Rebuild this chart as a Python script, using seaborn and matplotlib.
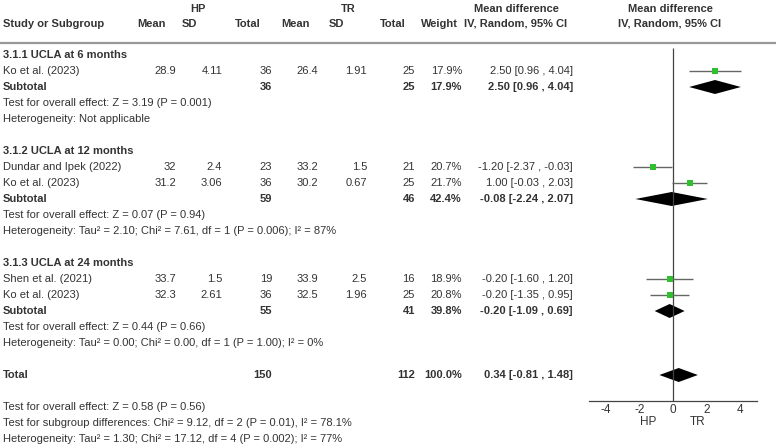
import numpy as np
import pandas as pd
import matplotlib
matplotlib.use('Agg')
import matplotlib.pyplot as plt
import seaborn as sns

# --- data ---
studies = ['Ko et al. (2023)', 'Dundar and Ipek (2022)', 'Ko et al. (2023)',
           'Shen et al. (2021)', 'Ko et al. (2023)']
group = [0, 1, 1, 2, 2]
hp_mean = [28.9, 32, 31.2, 33.7, 32.3]
hp_sd = [4.11, 2.4, 3.06, 1.5, 2.61]
hp_n = [36, 23, 36, 19, 36]
tr_mean = [26.4, 33.2, 30.2, 33.9, 32.5]
tr_sd = [1.91, 1.5, 0.67, 2.5, 1.96]
tr_n = [25, 21, 25, 16, 25]
weight = [17.9, 20.7, 21.7, 18.9, 20.8]
md = [2.50, -1.20, 1.00, -0.20, -0.20]
ci_lo = [0.96, -2.37, -0.03, -1.60, -1.35]
ci_hi = [4.04, -0.03, 2.03, 1.20, 0.95]

sub_titles = ['3.1.1 UCLA at 6 months', '3.1.2 UCLA at 12 months', '3.1.3 UCLA at 24 months']
sub_hp_n = [36, 59, 55]
sub_tr_n = [25, 46, 41]
sub_weight = [17.9, 42.4, 39.8]
sub_md = [2.50, -0.08, -0.20]
sub_lo = [0.96, -2.24, -1.09]
sub_hi = [4.04, 2.07, 0.69]
sub_effect = ['Test for overall effect: Z = 3.19 (P = 0.001)',
              'Test for overall effect: Z = 0.07 (P = 0.94)',
              'Test for overall effect: Z = 0.44 (P = 0.66)']
sub_het = ['Heterogeneity: Not applicable',
           'Heterogeneity: Tau² = 2.10; Chi² = 7.61, df = 1 (P = 0.006); I² = 87%',
           'Heterogeneity: Tau² = 0.00; Chi² = 0.00, df = 1 (P = 1.00); I² = 0%']

total_hp_n = 150
total_tr_n = 112
total_weight = 100.0
total_md, total_lo, total_hi = 0.34, -0.81, 1.48
footer = ['Test for overall effect: Z = 0.58 (P = 0.56)',
          'Test for subgroup differences: Chi² = 9.12, df = 2 (P = 0.01), I² = 78.1%',
          'Heterogeneity: Tau² = 1.30; Chi² = 17.12, df = 4 (P = 0.002); I² = 77%']
xticks = [-4, -2, 0, 2, 4]

# --- layout ---
sns.set_theme(style='white')
plt.rcParams['font.family'] = ['Liberation Sans', 'DejaVu Sans']
FS = 8.0
TXT = '#333333'
GREEN = '#2fbf2f'
W, H = 776, 448
row0, pitch = 55, 16

fig = plt.figure(figsize=(W / 100, H / 100), dpi=100)
tax = fig.add_axes([0, 0, 1, 1])
tax.set_xlim(0, W)
tax.set_ylim(H, 0)
tax.axis('off')

# forest panel: x in mean-difference units, y in pixel rows
fx0, fx1 = 589, 757
fax = fig.add_axes([fx0 / W, 0, (fx1 - fx0) / W, 1])
fax.set_xlim(-5, 5)
fax.set_ylim(H, 0)
fax.patch.set_alpha(0)
for s in ['top', 'left', 'right']:
    fax.spines[s].set_visible(False)
axis_y = 401
fax.spines['bottom'].set_position(('data', axis_y))
fax.spines['bottom'].set_color('#444444')
fax.spines['bottom'].set_linewidth(0.9)
fax.set_yticks([])
fax.set_xticks(xticks)
fax.set_xticklabels([str(t) for t in xticks])
fax.tick_params(axis='x', direction='inout', length=5, width=0.9, color='#444444',
                labelsize=FS + 0.5, labelcolor=TXT, pad=0)
fax.text(-1.5, 422, 'HP', ha='center', va='center', fontsize=FS + 0.5, color=TXT)
fax.text(1.45, 422, 'TR', ha='center', va='center', fontsize=FS + 0.5, color=TXT)
fax.vlines(0, 48, axis_y, color='#444444', lw=0.9)

# column right edges
cols = {'hp_mean': 176, 'hp_sd': 222, 'hp_n': 272, 'tr_mean': 318, 'tr_sd': 367,
        'tr_n': 415, 'w': 462, 'ci': 573}


def txt(x, y, s, ha='left', bold=False, color=TXT):
    tax.text(x, y, s, ha=ha, va='center', fontsize=FS, color=color,
             fontweight='bold' if bold else 'normal')


def ci_str(m, l, h):
    return f'{m:.2f} [{l:.2f} , {h:.2f}]'


def diamond(y, m, l, h):
    fax.fill([l, m, h, m], [y, y - 7, y, y + 7], color='black', lw=0)


# header
hy1, hy2 = 9, 24
txt(3, hy2, 'Study or Subgroup', bold=True)
txt(198, hy1, 'HP', ha='center', bold=True)
txt(348, hy1, 'TR', ha='center', bold=True)
for x, s in [(152, 'Mean'), (189, 'SD'), (248, 'Total'), (295, 'Mean'),
             (336, 'SD'), (393, 'Total'), (439, 'Weight')]:
    txt(x, hy2, s, ha='center', bold=True)
txt(516, hy1, 'Mean difference', ha='center', bold=True)
txt(516, hy2, 'IV, Random, 95% CI', ha='center', bold=True)
txt(670, hy1, 'Mean difference', ha='center', bold=True)
txt(670, hy2, 'IV, Random, 95% CI', ha='center', bold=True)
tax.hlines(43, 0, W, color='#999999', lw=1.6)

# body
df = pd.DataFrame({'study': studies, 'group': group, 'md': md, 'lo': ci_lo, 'hi': ci_hi})
df['row_y'] = 0.0
row = 0
for g, title in enumerate(sub_titles):
    y = row0 + pitch * row
    txt(3, y, title, bold=True)
    row += 1
    for i in np.where(np.array(group) == g)[0]:
        y = row0 + pitch * row
        df.loc[i, 'row_y'] = y
        txt(3, y, studies[i])
        txt(cols['hp_mean'], y, f'{hp_mean[i]:g}', ha='right')
        txt(cols['hp_sd'], y, f'{hp_sd[i]:g}', ha='right')
        txt(cols['hp_n'], y, f'{hp_n[i]}', ha='right')
        txt(cols['tr_mean'], y, f'{tr_mean[i]:g}', ha='right')
        txt(cols['tr_sd'], y, f'{tr_sd[i]:g}', ha='right')
        txt(cols['tr_n'], y, f'{tr_n[i]}', ha='right')
        txt(cols['w'], y, f'{weight[i]:.1f}%', ha='right')
        txt(cols['ci'], y, ci_str(md[i], ci_lo[i], ci_hi[i]), ha='right')
        row += 1
    y = row0 + pitch * row
    txt(3, y, 'Subtotal', bold=True)
    txt(cols['hp_n'], y, f'{sub_hp_n[g]}', ha='right', bold=True)
    txt(cols['tr_n'], y, f'{sub_tr_n[g]}', ha='right', bold=True)
    txt(cols['w'], y, f'{sub_weight[g]:.1f}%', ha='right', bold=True)
    txt(cols['ci'], y, ci_str(sub_md[g], sub_lo[g], sub_hi[g]), ha='right', bold=True)
    diamond(y, sub_md[g], sub_lo[g], sub_hi[g])
    row += 1
    txt(3, row0 + pitch * row, sub_effect[g])
    row += 1
    txt(3, row0 + pitch * row, sub_het[g])
    row += 2

y = row0 + pitch * row
txt(3, y, 'Total', bold=True)
txt(cols['hp_n'], y, f'{total_hp_n}', ha='right', bold=True)
txt(cols['tr_n'], y, f'{total_tr_n}', ha='right', bold=True)
txt(cols['w'], y, f'{total_weight:.1f}%', ha='right', bold=True)
txt(cols['ci'], y, ci_str(total_md, total_lo, total_hi), ha='right', bold=True)
diamond(y, total_md, total_lo, total_hi)
row += 2
for line in footer:
    txt(3, row0 + pitch * row, line)
    row += 1

# study estimates: whiskers + green squares
fax.hlines(df['row_y'], df['lo'], df['hi'], color='#666666', lw=1.0, zorder=2)
sns.scatterplot(data=df, x='md', y='row_y', marker='s', color=GREEN, s=14,
                linewidth=0, ax=fax, zorder=3, legend=False)
fax.set_xlabel('')
fax.set_ylabel('')
fax.set_ylim(H, 0)
fax.set_xlim(-5, 5)

fig.savefig('out.png', dpi=100)
